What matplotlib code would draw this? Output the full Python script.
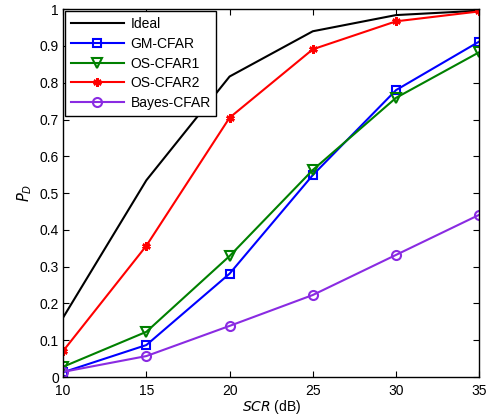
import numpy as np
import matplotlib
matplotlib.use('Agg')
import matplotlib.pyplot as plt

plt.rcParams['font.family'] = ['Liberation Sans', 'DejaVu Sans']

# SCR values (dB) and detection probabilities
scr = [10, 15, 20, 25, 30, 35]
ideal = [0.162, 0.535, 0.817, 0.940, 0.984, 0.996]
gm_cfar = [0.013, 0.087, 0.281, 0.549, 0.780, 0.912]
os_cfar1 = [0.028, 0.123, 0.329, 0.563, 0.759, 0.883]
os_cfar2 = [0.071, 0.357, 0.705, 0.891, 0.967, 0.994]
bayes_cfar = [0.014, 0.057, 0.139, 0.223, 0.332, 0.441]

fig = plt.figure(figsize=(4.86, 4.18), dpi=100)
ax = fig.add_axes([0.130, 0.098, 0.856, 0.880])

lw = 1.5
ax.plot(scr, ideal, color='k', lw=lw, label='Ideal')
ax.plot(scr, gm_cfar, color='#0000ff', lw=lw, marker='s', ms=6, mfc='none',
        mew=1.5, label='GM-CFAR')
ax.plot(scr, os_cfar1, color='#008000', lw=lw, marker='v', ms=7, mfc='none',
        mew=1.5, label='OS-CFAR1')
ax.plot(scr, os_cfar2, color='#ff0000', lw=lw, marker=(6, 2, 0), ms=6,
        mew=1.8, label='OS-CFAR2')
ax.plot(scr, bayes_cfar, color='#8a2be2', lw=lw, marker='o', ms=6.5, mfc='none',
        mew=1.5, label='Bayes-CFAR')

ax.set_xlim(10, 35)
ax.set_ylim(0, 1)
ax.set_xticks(scr)
ax.set_yticks(np.arange(0, 1.01, 0.1))
ax.set_yticklabels(['0', '0.1', '0.2', '0.3', '0.4', '0.5', '0.6', '0.7',
                    '0.8', '0.9', '1'])
ax.tick_params(direction='in', top=True, right=True, labelsize=10,
               length=4, width=0.8, pad=3)
ax.tick_params(axis='x', pad=5)
for s in ax.spines.values():
    s.set_linewidth(1.0)

ax.set_xlabel('$\\mathit{SCR}$ (dB)', fontsize=10, labelpad=0)
ax.set_ylabel('$P_D$', fontsize=10.5, labelpad=4)

leg = ax.legend(loc='upper left', fontsize=10, fancybox=False,
                edgecolor='k', framealpha=1, handlelength=3.8,
                borderaxespad=0.15, labelspacing=0.42, borderpad=0.4,
                handletextpad=0.5)
leg.get_frame().set_linewidth(1.0)

fig.savefig('out.png', dpi=100)
